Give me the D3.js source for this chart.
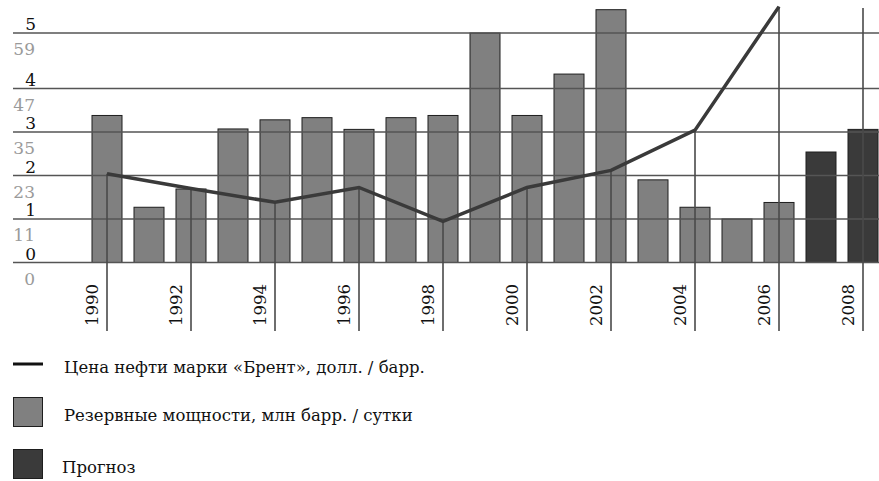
<!DOCTYPE html>
<html>
<head>
<meta charset="utf-8">
<script src="https://cdn.jsdelivr.net/npm/d3@7/dist/d3.min.js"></script>
<style>
	body { margin: 0; background: #fff; }
	text { font-family: "DejaVu Serif", "Liberation Serif", serif; }
</style>
</head>
<body>
<svg></svg>
<script>
var years = [1990, 1991, 1992, 1993, 1994, 1995, 1996, 1997, 1998, 1999,
             2000, 2001, 2002, 2003, 2004, 2005, 2006, 2007, 2008];
var reserve = [3.38, 1.27, 1.69, 3.07, 3.28, 3.33, 3.06, 3.33, 3.38, 5.0,
               3.38, 4.26, 5.42, 1.9, 1.27, 1.0, 1.38, 2.54, 3.06];
var forecastYears = [2007, 2008];
var priceYears = [1990, 1992, 1994, 1996, 1998, 2000, 2002, 2004, 2006];
var brent = [23.5, 19.4, 15.6, 19.7, 10.4, 19.7, 24.4, 35.5, 64.7];
var tickYears = [1990, 1992, 1994, 1996, 1998, 2000, 2002, 2004, 2006, 2008];
var reserveTicks = [0, 1, 2, 3, 4, 5];
var priceTicks = [0, 11, 23, 35, 47, 59];
var legendLabels = ['Цена нефти марки «Брент», долл. / барр.',
                    'Резервные мощности, млн барр. / сутки',
                    'Прогноз'];

(function(){
	var unit = {width: 879, height: 481};
	var svg = d3.select('svg')
				.attr('width', unit.width)
				.attr('height', unit.height);

	var base = 262.5, step = 43.5, top = 33;
	var rangeY = [base, base - step, base - 2*step, base - 3*step, base - 4*step, top];

	// piecewise scales, both share the same gridlines
	var yRes = d3.scaleLinear().domain(reserveTicks).range(rangeY);
	var yPrice = d3.scaleLinear().domain(priceTicks).range(rangeY);

	var x = d3.scaleBand()
				.domain(years)
				.range([92, 878])
				.paddingInner(0.2857)
				.paddingOuter(0);
	var cx = (d) => x(d) + x.bandwidth()/2;

	var gBars = svg.append('g');
	gBars.selectAll('rect')
		.data(years)
		.enter()
		.append('rect')
		.attr('x', (d) => x(d))
		.attr('y', (d, i) => yRes(reserve[i]))
		.attr('width', x.bandwidth())
		.attr('height', (d, i) => base - yRes(reserve[i]))
		.attr('fill', (d) => forecastYears.indexOf(d) >= 0 ? '#3a3a3a' : '#808080')
		.attr('stroke', '#1e1e1e')
		.attr('stroke-width', 1);

	// gridlines over the bars
	svg.append('g')
		.selectAll('line')
		.data(reserveTicks)
		.enter()
		.append('line')
		.attr('x1', 13)
		.attr('x2', unit.width)
		.attr('y1', (d) => yRes(d))
		.attr('y2', (d) => yRes(d))
		.attr('stroke', '#555')
		.attr('stroke-width', 1.6);

	var gAxis = svg.append('g').attr('text-anchor', 'end').style('font-size', '17px');
	gAxis.selectAll('.resLabel')
		.data(reserveTicks)
		.enter()
		.append('text')
		.classed('resLabel', true)
		.attr('x', 36)
		.attr('y', (d) => yRes(d) - 3)
		.attr('fill', '#111')
		.text((d) => d);
	gAxis.selectAll('.priceLabel')
		.data(priceTicks)
		.enter()
		.append('text')
		.classed('priceLabel', true)
		.attr('x', 35)
		.attr('y', (d) => yPrice(d) + 22)
		.attr('fill', '#9a9a9a')
		.text((d) => d);

	// year ticks run from the price point down below the labels
	var priceOf = {};
	priceYears.forEach((y, i) => priceOf[y] = brent[i]);

	svg.append('g')
		.selectAll('line')
		.data(tickYears)
		.enter()
		.append('line')
		.attr('x1', (d) => cx(d))
		.attr('x2', (d) => cx(d))
		.attr('y1', (d) => priceOf[d] !== undefined ? yPrice(priceOf[d]) : 8)
		.attr('y2', 331)
		.attr('stroke', '#4a4a4a')
		.attr('stroke-width', 1.6);

	svg.append('g')
		.selectAll('text')
		.data(tickYears)
		.enter()
		.append('text')
		.attr('transform', (d) => 'translate(' + (cx(d) - 9) + ',326)rotate(-90)')
		.attr('fill', '#111')
		.style('font-size', '16.5px')
		.text((d) => d);

	var line = d3.line()
				.x((d) => cx(d))
				.y((d, i) => yPrice(brent[i]));
	svg.append('path')
		.datum(priceYears)
		.attr('d', line)
		.attr('fill', 'none')
		.attr('stroke', '#3a3a3a')
		.attr('stroke-width', 3.5)
		.attr('stroke-linejoin', 'miter');

	// legend
	var gLegend = svg.append('g').style('font-size', '16.5px');
	var legendY = [364, 412, 464];
	gLegend.append('line')
		.attr('x1', 13).attr('x2', 43)
		.attr('y1', legendY[0]).attr('y2', legendY[0])
		.attr('stroke', '#111')
		.attr('stroke-width', 3);
	gLegend.selectAll('rect')
		.data(['#808080', '#3a3a3a'])
		.enter()
		.append('rect')
		.attr('x', 13.5)
		.attr('y', (d, i) => legendY[i + 1] - 14.5)
		.attr('width', 29)
		.attr('height', 29)
		.attr('fill', (d) => d)
		.attr('stroke', '#1e1e1e');
	gLegend.selectAll('text')
		.data(legendLabels)
		.enter()
		.append('text')
		.attr('x', (d, i) => i == 2 ? 62 : 64)
		.attr('y', (d, i) => legendY[i] + 9)
		.attr('fill', '#111')
		.text((d) => d);
})();
</script>
</body>
</html>
